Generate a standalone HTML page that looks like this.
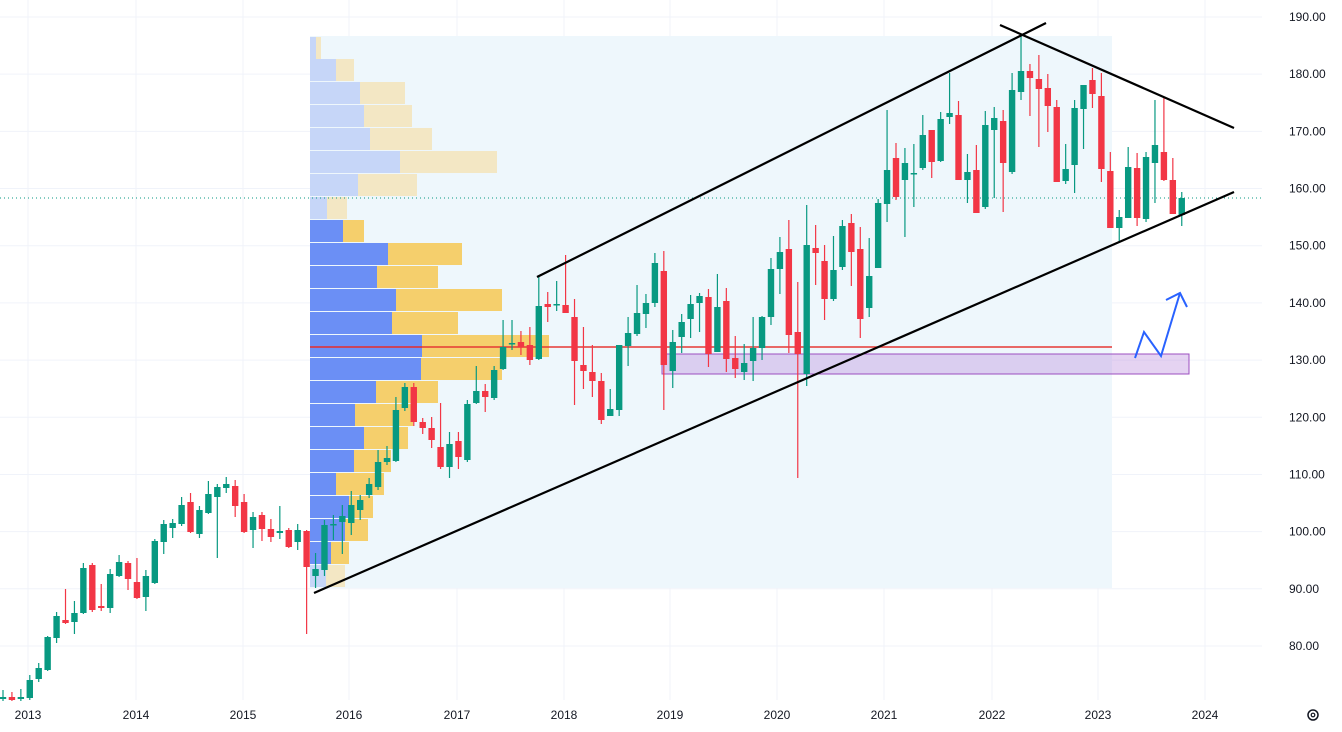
<!DOCTYPE html>
<html><head><meta charset="utf-8">
<style>
html,body{margin:0;padding:0;background:#fff;width:1342px;height:732px;overflow:hidden}
svg{display:block}
text{font-family:"Liberation Sans",sans-serif;font-size:12px;fill:#131722}
</style></head><body>
<svg id="s" width="1342" height="732" xmlns="http://www.w3.org/2000/svg">
<g id="grid"></g>
<rect x="310" y="36" width="802" height="552" fill="#eef7fc"/>
<g id="vp"></g>
<line x1="310" y1="347" x2="422" y2="347" stroke="#7b3fb0" stroke-width="1.5"/>
<rect x="662" y="354" width="527" height="20" fill="rgba(186,140,220,0.38)" stroke="#9c4fc0" stroke-width="1"/>
<line x1="310" y1="347" x2="1112" y2="347" stroke="#e53935" stroke-width="1.5"/>
<line x1="0" y1="198" x2="1262" y2="198" stroke="#089981" stroke-width="1" stroke-dasharray="1,3"/>
<g id="c"></g>
<line x1="314" y1="593" x2="1234" y2="192" stroke="#000" stroke-width="2.2"/>
<line x1="537" y1="277" x2="1046" y2="23" stroke="#000" stroke-width="2.2"/>
<line x1="1000" y1="25" x2="1234" y2="128" stroke="#000" stroke-width="2.2"/>
<polyline points="1135,358 1144,332 1161,356 1180,293" fill="none" stroke="#2962ff" stroke-width="2"/>
<polyline points="1166,300 1180,293 1187,307" fill="none" stroke="#2962ff" stroke-width="2"/>
<g id="lab"></g>
<circle cx="1313" cy="715" r="5" fill="none" stroke="#131722" stroke-width="1.5"/>
<circle cx="1313" cy="715" r="1.8" fill="none" stroke="#131722" stroke-width="1.2"/>
</svg>
<script>
var NS="http://www.w3.org/2000/svg";
function el(p,t,a){var e=document.createElementNS(NS,t);for(var k in a)e.setAttribute(k,a[k]);p.appendChild(e);return e;}
var g=document.getElementById('grid'),lab=document.getElementById('lab');
for(var i=0;i<12;i++){var p=190-i*10,y=17+i*57.18;
 el(g,'line',{x1:0,x2:1262,y1:y,y2:y,stroke:'#f0f3fa','stroke-width':1});
 var t=el(lab,'text',{x:1289,y:y+4});t.textContent=p.toFixed(2);}
var yrs=[[2013,28],[2014,136],[2015,243],[2016,349],[2017,457],[2018,564],[2019,670],[2020,777],[2021,884],[2022,992],[2023,1098],[2024,1205]];
yrs.forEach(function(a){el(g,'line',{x1:a[1],x2:a[1],y1:0,y2:700,stroke:'#f0f3fa','stroke-width':1});
 var t=el(lab,'text',{x:a[1],y:719,'text-anchor':'middle'});t.textContent=a[0];});
var vp=document.getElementById('vp');
var rows=[[36,316,321,1],[58,336,354,1],[81,360,405,1],[104,364,412,1],[127,370,432,1],[150,400,497,1],[173,358,417,1],[196,327,347,1],[219,343,364,0],[242,388,462,0],[265,377,438,0],[288,396,502,0],[311,392,458,0],[334,422,549,0],[357,421,502,0],[380,376,438,0],[403,355,413,0],[426,364,408,0],[449,354,391,0],[472,336,384,0],[495,349,373,0],[518,345,368,0],[541,331,349,0],[564,326,345,1]];
rows.forEach(function(r){var f=r[3];
 el(vp,'rect',{x:310,y:r[0]+1,width:r[1]-310,height:22,fill:f?'#c6d6f8':'#6b8ff5'});
 el(vp,'rect',{x:r[1],y:r[0]+1,width:r[2]-r[1],height:22,fill:f?'#f3e7c4':'#f5cf6c'});});
var d=[[699,697,690,701],[697,700,692,701],[699,697,689,701],[698,680,675,700],[679,668,663,682],[670,637,636,671],[638,616,612,643],[620,623,589,624],[622,613,601,634],[613,568,563,614],[565,610,563,612],[606,608,584,611],[608,574,569,613],[576,562,555,577],[563,579,561,590],[582,598,558,599],[597,576,570,611],[583,541,539,584],[542,524,520,554],[528,523,519,538],[524,505,497,526],[502,532,493,533],[534,510,506,538],[513,494,481,514],[497,487,484,558],[488,484,477,493],[486,506,480,517],[502,532,494,533],[530,517,512,548],[515,529,512,541],[529,537,519,542],[533,531,506,539],[530,547,528,548],[542,530,524,550],[531,567,530,634],[576,569,553,588],[570,525,520,576],[525,524,515,540],[522,516,505,554],[523,505,491,535],[510,500,495,520],[495,484,478,498],[487,462,450,490],[462,458,446,465],[461,410,397,462],[408,387,383,411],[387,422,383,426],[422,428,418,434],[428,440,417,448],[447,467,403,469],[467,444,432,478],[441,457,432,469],[460,404,400,462],[403,391,366,404],[391,397,384,412],[398,370,366,400],[369,347,320,370],[344,343,320,350],[342,347,331,355],[345,360,327,365],[359,306,277,360],[304,307,292,322],[305,304,281,311],[305,313,255,313],[317,361,299,405],[365,371,327,389],[372,381,345,397],[381,420,373,424],[416,409,389,416],[410,345,345,416],[346,333,317,366],[334,313,285,336],[314,303,294,328],[303,263,253,307],[271,365,251,410],[371,342,330,388],[337,322,314,353],[319,304,295,338],[303,296,293,332],[297,354,289,367],[352,307,274,352],[301,359,288,372],[358,369,336,378],[372,363,344,380],[361,348,317,381],[348,317,316,360],[317,269,258,325],[269,252,237,294],[249,335,220,353],[332,354,282,478],[374,245,205,386],[248,253,225,285],[261,299,245,320],[299,270,236,301],[267,226,220,270],[223,252,214,286],[249,319,227,338],[308,276,238,317],[268,203,199,268],[204,170,110,222],[158,197,143,200],[180,163,148,237],[174,173,144,207],[168,135,115,170],[130,162,130,178],[161,119,112,162],[117,113,73,124],[115,180,101,180],[180,172,154,203],[170,213,145,213],[207,125,111,209],[130,118,107,198],[121,163,110,212],[172,90,73,174],[92,71,36,100],[71,78,64,116],[79,89,55,147],[88,106,74,132],[107,182,100,182],[181,169,144,184],[165,108,100,193],[109,85,85,149],[80,94,68,108],[96,169,73,182],[171,228,152,228],[228,217,210,242],[218,167,147,218],[168,218,153,226],[219,157,152,222],[163,145,100,203],[152,180,97,181],[180,214,158,214],[215,198,192,226]];
var c=document.getElementById('c');
d.forEach(function(k,i){var x=3+i*8.93,o=k[0],cl=k[1],col=cl<=o?'#089981':'#f23645';
 el(c,'line',{x1:x,x2:x,y1:k[2],y2:k[3],stroke:col,'stroke-width':1.2});
 var top=Math.min(o,cl),h=Math.max(Math.abs(o-cl),1.5);
 el(c,'rect',{x:x-3.2,y:top,width:6.4,height:h,fill:col});});
</script>
</body></html>
